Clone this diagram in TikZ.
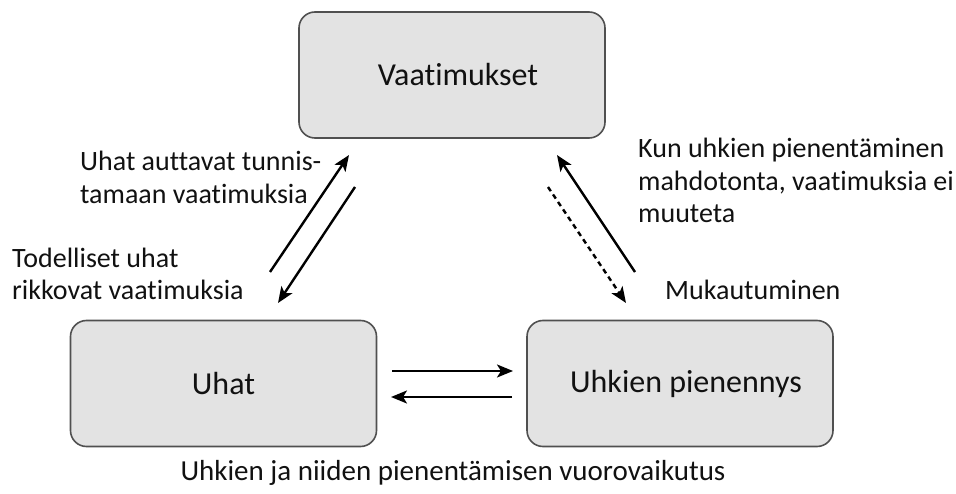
\documentclass[tikz,border=0pt]{standalone}
\usepackage{fontspec}
\setmainfont{Carlito}[Ligatures=NoCommon]
\usetikzlibrary{arrows.meta}
\definecolor{boxfill}{HTML}{E3E3E3}
\definecolor{boxline}{HTML}{505050}
\definecolor{ink}{HTML}{111111}
\begin{document}
\begin{tikzpicture}[x=1pt,y=-1pt,
  box/.style={draw=boxline, line width=1.6pt, fill=boxfill, rounded corners=16pt,
    minimum width=306pt, minimum height=126pt, inner sep=0pt, text=ink,
    font=\fontsize{32}{38}\selectfont},
  lbl/.style={anchor=base west, inner sep=0pt, text=ink, font=\fontsize{28}{33}\selectfont},
  link/.style={line width=2.4pt, -{Stealth[length=16pt,width=13pt,inset=4pt]}},
]
\useasboundingbox (0,0) rectangle (956,494);

% the three stages
\node[box] (req) at (452,75)    {\hspace{12pt}Vaatimukset};
\node[box] (thr) at (223.5,383.5) {Uhat\hspace{16pt}};
\node[box] (mit) at (680,383.5) {\hspace{12pt}Uhkien pienennys};

% arrow end points
\coordinate (a1s) at (270,272);  \coordinate (a1e) at (349,155);
\coordinate (a2s) at (355,187);  \coordinate (a2e) at (278,303);
\coordinate (b1s) at (635,272);  \coordinate (b1e) at (557,155);
\coordinate (b2s) at (548,187);  \coordinate (b2e) at (626,303);
\coordinate (c1s) at (392,371);  \coordinate (c1e) at (513,371);
\coordinate (c2s) at (512,397);  \coordinate (c2e) at (391,397);

\draw[link] (a1s) -- (a1e);
\draw[link] (a2s) -- (a2e);
\draw[link] (b1s) -- (b1e);
\draw[link, dash pattern=on 5pt off 4pt] (b2s) -- (b2e);
\draw[link] (c1s) -- (c1e);
\draw[link] (c2s) -- (c2e);

% labels
\node[lbl] (t1a) at (80,171) {Uhat auttavat tunnis-};
\node[lbl] (t1b) at (80,204) {tamaan vaatimuksia};
\node[lbl] (t2a) at (12,268) {Todelliset uhat};
\node[lbl] (t2b) at (12,300) {rikkovat vaatimuksia};
\node[lbl] (t3a) at (638,158) {Kun uhkien pienentäminen};
\node[lbl] (t3b) at (638,191) {mahdotonta, vaatimuksia ei};
\node[lbl] (t3c) at (638,223) {muuteta};
\node[lbl] (t4)  at (665,300) {Mukautuminen};
\node[lbl, anchor=base, font=\fontsize{29}{33}\selectfont] (cap) at (453,480) {Uhkien ja niiden pienentämisen vuorovaikutus};
\end{tikzpicture}
\end{document}
